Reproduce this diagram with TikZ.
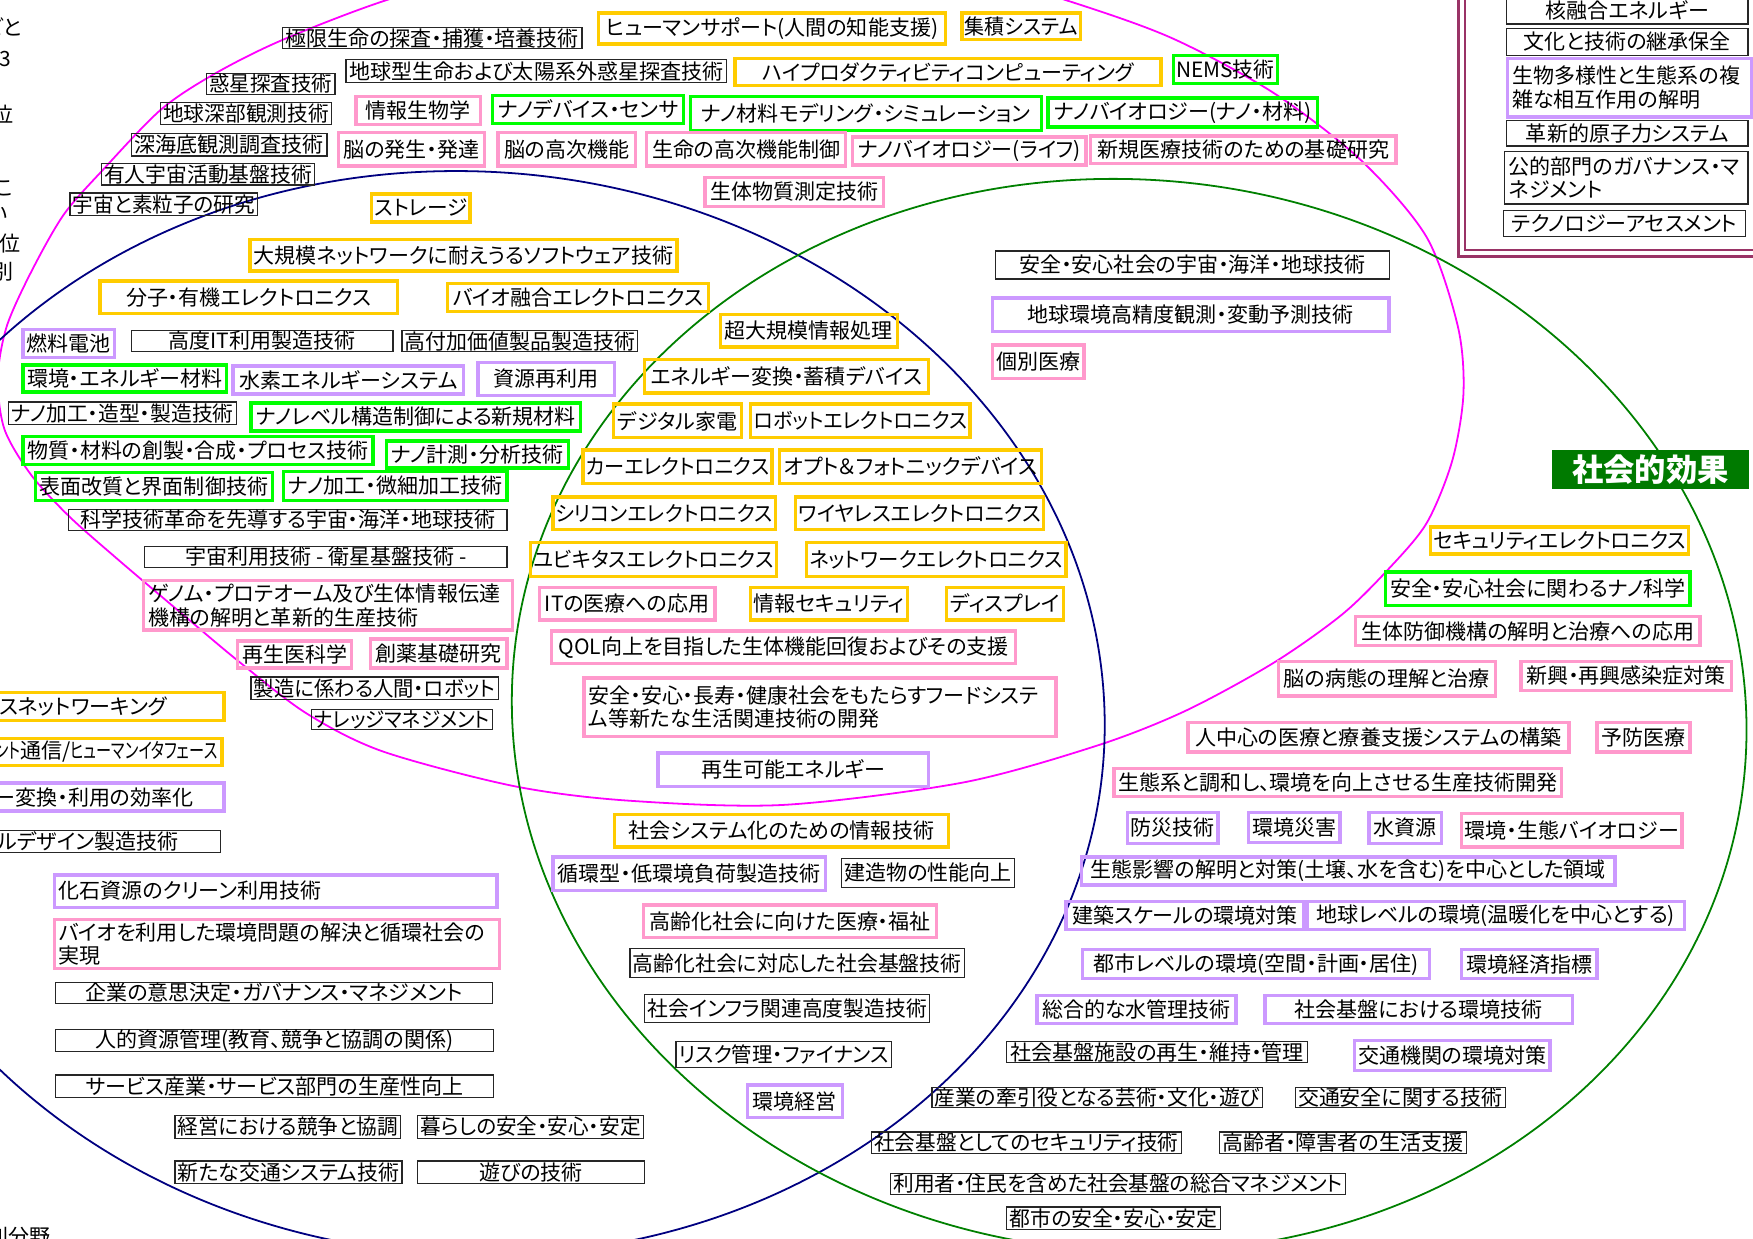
\documentclass[tikz,border=0pt]{standalone}
\usepackage{fontspec}
\usepackage{graphicx}
\newfontfamily\jp[RawFeature=+palt]{Noto Sans CJK JP}
\definecolor{cyel}{RGB}{255,204,0}
\definecolor{cgrn}{RGB}{0,255,0}
\definecolor{cpnk}{RGB}{255,153,204}
\definecolor{cpur}{RGB}{204,153,255}
\definecolor{cmag}{RGB}{255,0,255}
\definecolor{cnav}{RGB}{0,0,128}
\definecolor{cdg}{RGB}{0,128,0}
\definecolor{cfr}{RGB}{153,51,102}
\definecolor{clab}{RGB}{0,122,0}
\newsavebox\fitbox
\newlength\bw
\newcommand\fitto[2]{\sbox\fitbox{#2}\ifdim\wd\fitbox>#1\relax\resizebox{#1}{\height}{\usebox\fitbox}\else\usebox\fitbox\fi}
\newcommand\bx[7]{%
  \pgfmathsetlengthmacro\bxw{(#4-(#2))*1pt}%
  \pgfmathsetlengthmacro\bxh{(#5-(#3))*1pt}%
  \pgfmathsetlength\bw{(#4-(#2))*1pt-5pt}%
  \node[#1,anchor=north west,minimum width=\bxw,minimum height=\bxh] (#6) at (#2,#3) {\fitto{\bw}{#7}};}
\newcommand\bxm[8]{%
  \pgfmathsetlengthmacro\bxtw{(#5-(#3))*1pt-8pt}%
  \pgfmathsetlengthmacro\bxh{(#6-(#4))*1pt}%
  \node[#2,anchor=north west,text width=\bxtw,inner xsep=4pt,minimum height=\bxh,align=#1] (#7) at (#3,#4) {#8};}
\tikzset{
  bxbase/.style={rectangle,inner xsep=2pt,inner ysep=0pt,font=\jp\fontsize{18.8}{21}\selectfont,text=black},
  yb/.style={bxbase,draw=cyel,line width=3pt},
  gb/.style={bxbase,draw=cgrn,line width=3pt},
  pb/.style={bxbase,draw=cpnk,line width=3pt},
  vb/.style={bxbase,draw=cpur,line width=3pt},
  kb/.style={bxbase,draw=black!85,line width=1.1pt},
  lt/.style={inner sep=0pt,font=\jp\fontsize{18.8}{21}\selectfont,text=black},
  curve/.style={line width=1.6pt}
}
\begin{document}
\begin{tikzpicture}[x=1pt,y=-1pt]
\useasboundingbox (0,0) rectangle (1568,1108);
% large curves
\draw[curve,cmag] plot[smooth cycle] coordinates {(470,-35) (346,0) (252,36) (192,66) (144,98) (92,152) (57,192) (28,243) (6,292) (-2,338) (4,384) (28,425) (62,462) (105,500) (158,545) (214,592) (274,638) (342,672) (459,703) (560,716) (700,720) (861,700) (981,667) (1060,636) (1139,593) (1200,550) (1241,510) (1276,468) (1299,412) (1309,352) (1304,292) (1276,212) (1217,143) (1139,83) (1048,34) (953,0) (830,-36) (650,-48)};
\draw[curve,cnav,shift={(420,638)},xslant=-0.025] (0,0) ellipse [x radius=568, y radius=485];
\draw[curve,cdg,shift={(1010,640)},xslant=-0.03] (0,0) ellipse [x radius=552, y radius=480];
% panel frame
\draw[cfr,line width=2.6pt] (1304.8,-10) rectangle (1600,229.6);
\draw[cfr,line width=1.4pt] (1310.5,-10) rectangle (1600,223.4);
% left edge text fragments
\node[lt,anchor=east] (e1) at (19.4,24.5) {ごと};
\node[lt,anchor=east] (e2) at (10.4,52.5) {3};
\node[lt,anchor=east] (e3) at (12,102) {位};
\node[lt,anchor=east] (e4) at (12,168.5) {こ};
\node[lt,anchor=east] (e5) at (7,191.5) {い};
\node[lt,anchor=east] (e6) at (18.5,218) {位};
\node[lt,anchor=east] (e7) at (12,243.5) {別};
\node[lt,anchor=east] (e8) at (45,1106) {別分野};
% black boxes
\bx{kb}{252}{24}{520}{43}{k1}{極限生命の探査・捕獲・培養技術}
\bx{kb}{309}{53}{649}{73}{k2}{地球型生命および太陽系外惑星探査技術}
\bx{kb}{184}{65}{299}{84}{k3}{惑星探査技術}
\bx{kb}{143}{91}{296}{111}{k4}{地球深部観測技術}
\bx{kb}{117}{119}{292}{139}{k5}{深海底観測調査技術}
\bx{kb}{90}{146}{281}{165}{k6}{有人宇宙活動基盤技術}
\bx{kb}{62}{172}{230}{192}{k7}{宇宙と素粒子の研究}
\bx{kb}{890}{224}{1242}{249}{k8}{安全・安心社会の宇宙・海洋・地球技術}
\bx{kb}{117}{295}{351}{314}{k9}{高度IT利用製造技術}
\bx{kb}{359}{295}{570}{314}{k10}{高付加価値製品製造技術}
\bx{kb}{7}{359}{211}{379}{k11}{ナノ加工・造型・製造技術}
\bx{kb}{61}{455}{453}{474}{k12}{科学技術革命を先導する宇宙・海洋・地球技術}
\bx{kb}{129}{488}{453}{507}{k13}{宇宙利用技術 - 衛星基盤技術 -}
\bx{kb}{224}{605}{445}{625}{k14}{製造に係わる人間・ロボット}
\bx{kb}{278}{634}{440}{652}{k15}{ナレッジマネジメント}
\bxm{right}{kb}{-10}{742}{197}{762}{k16}{ルデザイン製造技術\kern34pt}
\bx{kb}{752}{767}{907}{793}{k17}{建造物の性能向上}
\bx{kb}{563}{848}{862}{874}{k18}{高齢化社会に対応した社会基盤技術}
\bx{kb}{49}{878}{440}{897}{k19}{企業の意思決定・ガバナンス・マネジメント}
\bx{kb}{576}{889}{831}{914}{k20}{社会インフラ関連高度製造技術}
\bx{kb}{49}{920}{441}{940}{k21}{人的資源管理(教育、競争と協調の関係)}
\bx{kb}{604}{931}{797}{954}{k22}{リスク管理・ファイナンス}
\bx{kb}{900}{931}{1169}{950}{k23}{社会基盤施設の再生・維持・管理}
\bx{kb}{49}{961}{441}{981}{k24}{サービス産業・サービス部門の生産性向上}
\bx{kb}{833}{972}{1129}{990}{k25}{産業の牽引役となる芸術・文化・遊び}
\bx{kb}{1158}{972}{1346}{990}{k26}{交通安全に関する技術}
\bx{kb}{156}{997}{358}{1018}{k27}{経営における競争と協調}
\bx{kb}{373}{997}{575}{1018}{k28}{暮らしの安全・安心・安定}
\bx{kb}{779}{1012}{1056}{1031}{k29}{社会基盤としてのセキュリティ技術}
\bx{kb}{1090}{1012}{1311}{1031}{k30}{高齢者・障害者の生活支援}
\bx{kb}{156}{1038}{359}{1058}{k31}{新たな交通システム技術}
\bx{kb}{373}{1038}{576}{1058}{k32}{遊びの技術}
\bx{kb}{796}{1049}{1203}{1068}{k33}{利用者・住民を含めた社会基盤の総合マネジメント}
\bx{kb}{900}{1079}{1091}{1099}{k34}{都市の安全・安心・安定}
% panel boxes
\bx{kb}{1347}{-3}{1563}{21}{k35}{核融合エネルギー}
\bx{kb}{1347}{25}{1563}{49}{k36}{文化と技術の継承保全}
\bxm{left}{vb}{1347}{51}{1565}{103}{v21}{生物多様性と生態系の複\\雑な相互作用の解明}
\bx{kb}{1347}{107}{1563}{130}{k37}{革新的原子力システム}
\bxm{left}{kb}{1345}{135}{1563}{182}{k38}{公的部門のガバナンス・マ\\ネジメント}
\bx{kb}{1344}{188}{1561}{211}{k39}{テクノロジーアセスメント}
% yellow boxes
\bx{yb}{534}{10}{844}{38}{y1}{ヒューマンサポート(人間の知能支援)}
\bx{yb}{859}{10}{965}{34}{y2}{集積システム}
\bx{yb}{656}{51}{1037}{75}{y3}{ハイプロダクティビティコンピューティング}
\bx{yb}{331}{172}{419}{197}{y4}{ストレージ}
\bx{yb}{222}{213}{604}{241}{y5}{大規模ネットワークに耐えうるソフトウェア技術}
\bx{yb}{88}{250}{354}{279}{y6}{分子・有機エレクトロニクス}
\bx{yb}{399}{252}{632}{277}{y7}{バイオ融合エレクトロニクス}
\bx{yb}{643}{280}{801}{309}{y8}{超大規模情報処理}
\bx{yb}{575}{320}{829}{350}{y9}{エネルギー変換・蓄積デバイス}
\bx{yb}{547}{360}{662}{390}{y10}{デジタル家電}
\bx{yb}{670}{360}{866}{390}{y11}{ロボットエレクトロニクス}
\bx{yb}{520}{401}{689}{431}{y12}{カーエレクトロニクス}
\bx{yb}{696}{401}{930}{431}{y13}{オプト＆フォトニックデバイス}
\bx{yb}{493}{443}{692}{472}{y14}{シリコンエレクトロニクス}
\bx{yb}{710}{443}{932}{472}{y15}{ワイヤレスエレクトロニクス}
\bx{yb}{473}{484}{693}{514}{y16}{ユビキタスエレクトロニクス}
\bx{yb}{720}{484}{952}{514}{y17}{ネットワークエレクトロニクス}
\bx{yb}{670}{524}{810}{553}{y18}{情報セキュリティ}
\bx{yb}{845}{524}{950}{553}{y19}{ディスプレイ}
\bxm{right}{yb}{-10}{618}{199}{643}{y20}{スネットワーキング\kern47pt}
\bxm{right}{yb}{-10}{659}{197}{683}{y21}{\scalebox{.72}[1]{ント}通信/\scalebox{.72}[1]{ヒューマンイタフェース}\kern1pt}
\bx{yb}{548}{727}{847}{756}{y22}{社会システム化のための情報技術}
\bx{yb}{1278}{470}{1509}{494}{y23}{セキュリティエレクトロニクス}
% green boxes
\bx{gb}{1048}{48}{1141}{73}{g1}{NEMS技術}
\bx{gb}{439}{84}{610}{109}{g2}{ナノデバイス・センサ}
\bx{gb}{616}{85}{930}{115}{g3}{ナノ材料モデリング・シミュレーション}
\bx{gb}{936}{86}{1177}{112}{g4}{ナノバイオロジー(ナノ・材料)}
\bx{gb}{19}{325}{201}{349}{g5}{環境・エネルギー材料}
\bx{gb}{223}{359}{518}{384}{g6}{ナノレベル構造制御による新規材料}
\bx{gb}{19}{389}{332}{414}{g7}{物質・材料の創製・合成・プロセス技術}
\bx{gb}{344}{393}{507}{417}{g8}{ナノ計測・分析技術}
\bx{gb}{30}{421}{242}{446}{g9}{表面改質と界面制御技術}
\bx{gb}{252}{420}{452}{446}{g10}{ナノ加工・微細加工技術}
\bx{gb}{1238}{510}{1510}{540}{g11}{安全・安心社会に関わるナノ科学}
% pink boxes
\bx{pb}{317}{85}{428}{110}{p1}{情報生物学}
\bx{pb}{301}{117}{432}{147}{p2}{脳の発生・発達}
\bx{pb}{444}{117}{567}{147}{p3}{脳の高次機能}
\bx{pb}{577}{117}{755}{147}{p4}{生命の高次機能制御}
\bx{pb}{761}{121}{970}{146}{p5}{ナノバイオロジー(ライフ)}
\bx{pb}{974}{120}{1247}{145}{p6}{新規医療技術のための基礎研究}
\bx{pb}{629}{157}{789}{183}{p7}{生体物質測定技術}
\bx{pb}{886}{307}{968}{337}{p8}{個別医療}
\bxm{left}{pb}{127}{518}{457}{562}{p9}{ゲノム・プロテオーム及び生体情報伝達\\機構の解明と革新的生産技術}
\bx{pb}{481}{524}{638}{553}{p10}{ITの医療への応用}
\bx{pb}{211}{572}{313}{596}{p11}{再生医科学}
\bx{pb}{330}{570}{452}{596}{p12}{創薬基礎研究}
\bx{pb}{492}{563}{907}{592}{p13}{QOL向上を目指した生体機能回復およびその支援}
\bxm{left}{pb}{521}{605}{943}{657}{p14}{安全・安心・長寿・健康社会をもたらすフードシステ\\ム等新たな生活関連技術の開発}
\bx{pb}{1211}{550}{1519}{576}{p15}{生体防御機構の解明と治療への応用}
\bx{pb}{1142}{590}{1336}{621}{p16}{脳の病態の理解と治療}
\bx{pb}{1359}{590}{1547}{616}{p17}{新興・再興感染症対策}
\bx{pb}{1061}{645}{1402}{671}{p18}{人中心の医療と療養支援システムの構築}
\bx{pb}{1427}{645}{1510}{671}{p19}{予防医療}
\bx{pb}{995}{686}{1395}{711}{p20}{生態系と調和し、環境を向上させる生産技術開発}
\bx{pb}{1306}{726}{1503}{756}{p21}{環境・生態バイオロジー}
\bx{pb}{574}{808}{836}{837}{p22}{高齢化社会に向けた医療・福祉}
\bxm{left}{pb}{47}{821}{445}{865}{p23}{バイオを利用した環境問題の解決と循環社会の\\実現}
% purple boxes
\bx{vb}{19}{293}{101}{318}{v1}{燃料電池}
\bx{vb}{207}{326}{413}{351}{v2}{水素エネルギーシステム}
\bx{vb}{426}{323}{548}{352}{v3}{資源再利用}
\bx{vb}{886}{265}{1241}{295}{v4}{地球環境高精度観測・変動予測技術}
\bx{vb}{587}{672}{829}{702}{v5}{再生可能エネルギー}
\bxm{right}{vb}{-10}{699}{199}{724}{v6}{ー変換・利用の効率化\kern30pt}
\bx{vb}{1007}{725}{1088}{753}{v7}{防災技術}
\bx{vb}{1115}{725}{1197}{752}{v8}{環境災害}
\bx{vb}{1223}{725}{1288}{753}{v9}{水資源}
\bx{vb}{493}{765}{737}{795}{v10}{循環型・低環境負荷製造技術}
\bx{vb}{966}{765}{1443}{790}{v11}{生態影響の解明と対策(土壌、水を含む)を中心とした領域}
\bxm{left}{vb}{47}{781}{443}{810}{v12}{化石資源のクリーン利用技術}
\bx{vb}{952}{805}{1165}{830}{v13}{建築スケールの環境対策}
\bx{vb}{1168}{805}{1505}{830}{v14}{地球レベルの環境(温暖化を中心とする)}
\bx{vb}{967}{848}{1277}{874}{v15}{都市レベルの環境(空間・計画・居住)}
\bx{vb}{1306}{848}{1427}{874}{v16}{環境経済指標}
\bx{vb}{926}{889}{1104}{914}{v17}{総合的な水管理技術}
\bx{vb}{1130}{889}{1405}{914}{v18}{社会基盤における環境技術}
\bx{vb}{1210}{929}{1385}{956}{v19}{交通機関の環境対策}
\bx{vb}{667}{969}{752}{998}{v20}{環境経営}
% label
\node[fill=clab,text=white,font=\jp\bfseries\fontsize{28}{30}\selectfont,inner sep=0pt,minimum width=176pt,minimum height=34.5pt,anchor=north west] (lab) at (1388,402.5) {社会的効果};
\end{tikzpicture}
\end{document}
